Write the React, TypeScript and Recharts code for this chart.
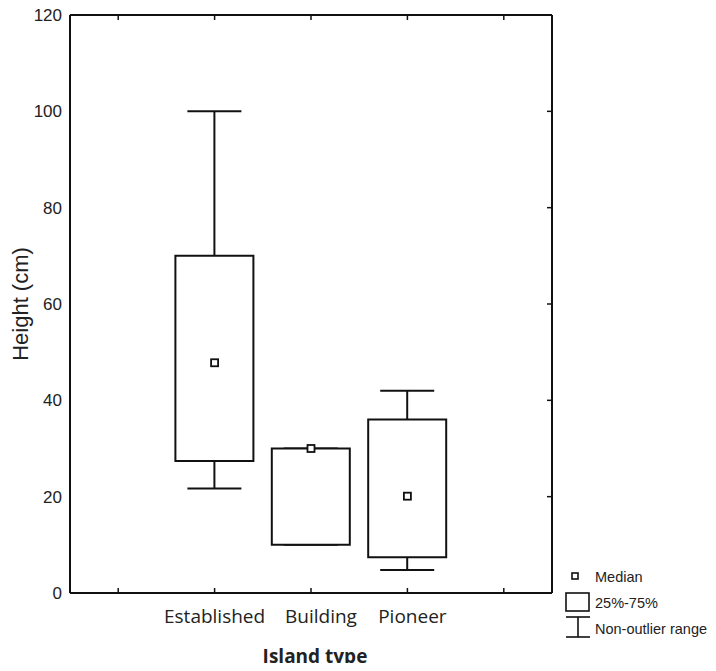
import { ComposedChart, Bar, Scatter, XAxis, YAxis, Legend, Label } from 'recharts';

// box plot summary per island type (blank slots pad the axis ends)
const categories = ['', 'Established', 'Building', 'Pioneer', ' '];
const whiskerLow = [null, 21.7, 10, 4.8, null];
const quartile1 = [null, 27.4, 10, 7.4, null];
const medians = [null, 47.8, 30, 20.1, null];
const quartile3 = [null, 70, 30, 36, null];
const whiskerHigh = [null, 100, 30, 42, null];
const yTicks = [0, 20, 40, 60, 80, 100, 120];

const rows = categories.map((name, i) => ({
  name,
  whisker: whiskerLow[i] == null ? null : [whiskerLow[i], whiskerHigh[i]],
  box: quartile1[i] == null ? null : [quartile1[i], quartile3[i]],
  median: medians[i],
}));

const INK = '#111';
const narrow = '"Liberation Sans Narrow", "Arial Narrow", "Liberation Sans", Arial, sans-serif';

function WhiskerShape(props: any) {
  const { x, y, width, height } = props;
  if (y == null || isNaN(y) || !height) return <g />;
  const cx = x + width / 2;
  return (
    <g stroke={INK} strokeWidth={2}>
      <line x1={cx} x2={cx} y1={y} y2={y + height} />
      <line x1={x} x2={x + width} y1={y} y2={y} />
      <line x1={x} x2={x + width} y1={y + height} y2={y + height} />
    </g>
  );
}

function MedianShape(props: any) {
  const { cx, cy, payload } = props;
  if (payload?.median == null) return <g />;
  return (
    <rect x={cx - 3.5} y={cy - 3.5} width={7} height={7} fill="#fff" stroke={INK} strokeWidth={1.8} />
  );
}

function BottomTick({ x, y, payload }: any) {
  const label = String(payload.value).trim();
  return (
    <g>
      <line x1={x} x2={x} y1={y} y2={y - 5} stroke={INK} strokeWidth={1.5} />
      {label && (
        <text
          x={x + (label === 'Building' ? 10 : label === 'Pioneer' ? 5 : 0)}
          y={y + 23}
          textAnchor="middle"
          dominantBaseline="central"
          fontFamily='"Open Sans", sans-serif'
          fontSize={19}
          fill="#222"
        >
          {label}
        </text>
      )}
    </g>
  );
}

function TopTick({ x, y }: any) {
  return <line x1={x} x2={x} y1={y} y2={y + 5} stroke={INK} strokeWidth={1.5} />;
}

function RightTick({ x, y }: any) {
  return <line x1={x} x2={x - 5} y1={y} y2={y} stroke={INK} strokeWidth={1.5} />;
}

function YLabel({ viewBox }: any) {
  const cx = viewBox.x + 12;
  const cy = viewBox.y + viewBox.height / 2;
  return (
    <text
      x={cx}
      y={cy}
      transform={`rotate(-90 ${cx} ${cy})`}
      textAnchor="middle"
      dominantBaseline="central"
      fontFamily='"Liberation Sans", Arial, sans-serif'
      fontSize={22}
      fill="#222"
    >
      Height (cm)
    </text>
  );
}

function XLabel({ viewBox }: any) {
  return (
    <text
      x={viewBox.x + viewBox.width / 2 + 4}
      y={viewBox.y + 63}
      textAnchor="middle"
      dominantBaseline="central"
      fontFamily='"Open Sans", sans-serif'
      fontWeight={700}
      fontSize={19}
      fill="#222"
    >
      Island type
    </text>
  );
}

function LegendBox() {
  const text = { fontFamily: narrow, fontSize: 14.5, fill: '#222', dominantBaseline: 'central' as const };
  return (
    <svg width={153} height={74}>
      <rect x={9} y={5} width={6} height={6} fill="#fff" stroke={INK} strokeWidth={1.6} />
      <text x={32} y={9} {...text}>Median</text>
      <rect x={3} y={25} width={23} height={18} fill="#fff" stroke={INK} strokeWidth={1.6} />
      <text x={32} y={35} {...text}>25%-75%</text>
      <g stroke={INK} strokeWidth={1.6}>
        <line x1={3} x2={27} y1={49} y2={49} />
        <line x1={15} x2={15} y1={49} y2={69} />
        <line x1={3} x2={27} y1={69} y2={69} />
      </g>
      <text x={32} y={61} {...text}>Non-outlier range</text>
    </svg>
  );
}

export default function App() {
  return (
    <div style={{ margin: '-8px 0 -8px -8px', width: 716, height: 671 }}>
      <ComposedChart
        width={716}
        height={671}
        data={rows}
        margin={{ top: 14, right: 163, bottom: 0, left: 8 }}
      >
        <XAxis
          xAxisId="b"
          dataKey="name"
          height={78}
          axisLine={{ stroke: INK, strokeWidth: 2 }}
          tickLine={false}
          tickSize={0}
          tickMargin={0}
          tick={<BottomTick />}
          interval={0}
        >
          <Label content={<XLabel />} />
        </XAxis>
        <XAxis
          xAxisId="t"
          dataKey="name"
          orientation="top"
          height={1}
          axisLine={{ stroke: INK, strokeWidth: 2 }}
          tickLine={false}
          tickSize={0}
          tickMargin={0}
          tick={<TopTick />}
          interval={0}
        />
        <YAxis
          yAxisId="l"
          type="number"
          domain={[0, 120]}
          ticks={yTicks}
          width={62}
          axisLine={{ stroke: INK, strokeWidth: 2 }}
          tickLine={false}
          tickSize={0}
          tickMargin={8}
          tick={{ fontFamily: narrow, fontSize: 17, fill: '#222' }}
          label={<YLabel />}
        />
        <YAxis
          yAxisId="r"
          orientation="right"
          type="number"
          domain={[0, 120]}
          ticks={yTicks}
          width={1}
          axisLine={{ stroke: INK, strokeWidth: 2 }}
          tickLine={false}
          tickSize={0}
          tickMargin={0}
          tick={<RightTick />}
        />
        <Bar
          xAxisId="t"
          yAxisId="r"
          dataKey="whisker"
          barSize={54}
          shape={<WhiskerShape />}
          isAnimationActive={false}
          legendType="none"
        />
        <Bar
          xAxisId="b"
          yAxisId="l"
          dataKey="box"
          barSize={78}
          fill="#fff"
          stroke={INK}
          strokeWidth={2}
          isAnimationActive={false}
          legendType="none"
        />
        <Scatter
          xAxisId="b"
          yAxisId="l"
          dataKey="median"
          shape={<MedianShape />}
          isAnimationActive={false}
          legendType="none"
        />
        <Legend
          layout="vertical"
          align="center"
          verticalAlign="middle"
          content={<LegendBox />}
          wrapperStyle={{ left: 563, top: 568, width: 153 }}
        />
      </ComposedChart>
    </div>
  );
}
